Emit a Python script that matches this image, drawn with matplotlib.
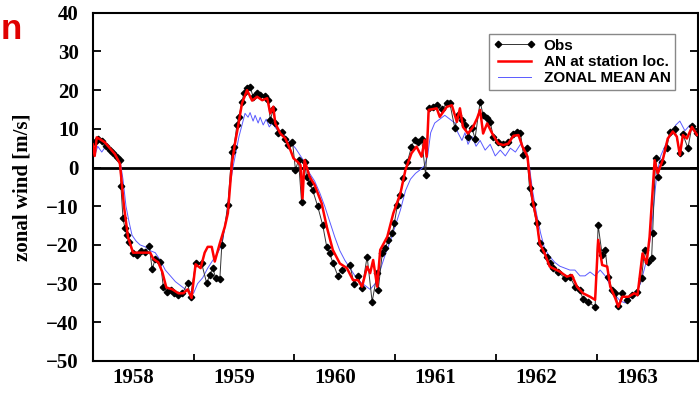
import matplotlib
matplotlib.use("Agg")
import matplotlib.pyplot as plt
import numpy as np

# ---------------- data (decimal year, zonal wind m/s) ----------------
obs_t = [1958.02, 1958.05, 1958.09, 1958.13, 1958.17, 1958.20, 1958.24, 1958.27, 1958.28, 1958.30,
         1958.32, 1958.34, 1958.36, 1958.40, 1958.44, 1958.48, 1958.52, 1958.56, 1958.59, 1958.62,
         1958.67, 1958.70, 1958.74, 1958.78, 1958.81, 1958.85, 1958.89, 1958.94, 1958.97,
         1959.02, 1959.08, 1959.13, 1959.16, 1959.19, 1959.22, 1959.26, 1959.28, 1959.34, 1959.38,
         1959.40, 1959.43, 1959.45, 1959.48, 1959.50, 1959.53, 1959.56, 1959.59, 1959.63, 1959.66,
         1959.71, 1959.74, 1959.76, 1959.79, 1959.81, 1959.84, 1959.88, 1959.91, 1959.94, 1959.98,
         1960.01, 1960.04, 1960.07, 1960.10, 1960.12, 1960.15, 1960.18, 1960.23, 1960.28, 1960.32,
         1960.35, 1960.38, 1960.43, 1960.47, 1960.55, 1960.59, 1960.63, 1960.67, 1960.72, 1960.77,
         1960.82, 1960.83, 1960.87, 1960.90, 1960.93, 1960.97, 1960.99,
         1961.02, 1961.05, 1961.08, 1961.12, 1961.16, 1961.19, 1961.22, 1961.26, 1961.30, 1961.33,
         1961.37, 1961.41, 1961.46, 1961.51, 1961.54, 1961.59, 1961.62, 1961.66, 1961.69, 1961.72,
         1961.76, 1961.79, 1961.84, 1961.87, 1961.91, 1961.94, 1961.97,
         1962.02, 1962.07, 1962.12, 1962.17, 1962.21, 1962.24, 1962.27, 1962.30, 1962.33, 1962.36,
         1962.40, 1962.43, 1962.46, 1962.50, 1962.53, 1962.56, 1962.61, 1962.68, 1962.73, 1962.78,
         1962.83, 1962.86, 1962.91, 1962.98,
         1963.01, 1963.05, 1963.08, 1963.11, 1963.15, 1963.18, 1963.21, 1963.25, 1963.30, 1963.35,
         1963.40, 1963.44, 1963.47, 1963.50, 1963.54, 1963.55, 1963.58, 1963.60, 1963.64, 1963.69,
         1963.72, 1963.77, 1963.82, 1963.85, 1963.90, 1963.94, 1963.99]
obs_v = [6.5, 7.4, 6.8, 5.6, 4.5, 3.7, 2.6, 1.9, -4.8, -13.1,
         -15.7, -17.4, -19.2, -22.2, -22.6, -21.7, -21.8, -20.3, -26.3, -23.6,
         -24.3, -30.8, -32.1, -31.6, -32.5, -33.0, -32.5, -29.9, -33.4,
         -24.8, -24.8, -29.9, -27.8, -26.0, -28.6, -28.9, -20.0, -9.7, 4.1,
         5.4, 11.0, 13.1, 17.0, 19.3, 20.5, 20.9, 18.3, 19.2, 18.7,
         18.5, 17.4, 12.3, 15.0, 11.4, 8.8, 9.3, 7.5, 5.8, 6.7,
         -0.6, 1.9, -8.8, 1.5, -2.4, -4.1, -5.8, -10.0, -14.9, -20.5,
         -22.2, -24.6, -28.0, -26.5, -25.2, -30.0, -28.0, -31.2, -23.0, -34.7,
         -27.3, -31.7, -22.2, -20.9, -18.7, -17.0, -14.4,
         -9.7, -7.1, -2.8, 1.5, 5.4, 7.1, 6.7, 7.5, -1.9, 15.3,
         15.7, 16.1, 15.0, 16.6, 16.6, 10.1, 13.6, 12.3, 11.0, 8.0,
         10.1, 7.5, 17.0, 13.6, 12.7, 11.8, 8.0,
         6.7, 6.2, 6.7, 8.6, 9.3, 9.0, 3.2, 5.0, -5.4, -9.3,
         -14.4, -19.6, -21.3, -23.0, -24.8, -26.0, -26.9, -28.6, -28.2, -30.8,
         -31.7, -34.0, -34.7, -36.0,
         -14.9, -22.6, -21.3, -28.2, -31.7, -32.5, -35.8, -32.5, -34.2, -33.0,
         -32.1, -28.6, -21.3, -24.3, -23.5, -17.0, 2.5, -2.4, 1.5, 5.0,
         9.3, 10.0, 3.7, 8.6, 5.0, 10.8, 9.0]

an_t = [1958.00, 1958.02, 1958.04, 1958.08, 1958.12, 1958.17, 1958.22, 1958.27, 1958.31, 1958.35,
        1958.40, 1958.47, 1958.53, 1958.57, 1958.60, 1958.65, 1958.69, 1958.73, 1958.79, 1958.85,
        1958.90, 1958.94, 1958.98,
        1959.02, 1959.07, 1959.11, 1959.14, 1959.18, 1959.21, 1959.26, 1959.31, 1959.34, 1959.38,
        1959.41, 1959.44, 1959.48, 1959.53, 1959.58, 1959.63, 1959.68, 1959.73, 1959.76, 1959.79,
        1959.81, 1959.86, 1959.91, 1959.96, 1959.99,
        1960.03, 1960.06, 1960.08, 1960.10, 1960.12, 1960.15, 1960.20, 1960.27, 1960.32, 1960.38,
        1960.45, 1960.52, 1960.58, 1960.63, 1960.67, 1960.72, 1960.75, 1960.78, 1960.82, 1960.85,
        1960.92, 1960.98,
        1961.05, 1961.10, 1961.16, 1961.21, 1961.26, 1961.29, 1961.31, 1961.33, 1961.41, 1961.44,
        1961.51, 1961.56, 1961.61, 1961.64, 1961.67, 1961.72, 1961.77, 1961.81, 1961.84, 1961.87,
        1961.91, 1961.96,
        1962.02, 1962.07, 1962.12, 1962.17, 1962.22, 1962.26, 1962.31, 1962.33, 1962.36, 1962.40,
        1962.43, 1962.48, 1962.53, 1962.56, 1962.63, 1962.70, 1962.75, 1962.80, 1962.86, 1962.93,
        1962.98,
        1963.01, 1963.05, 1963.10, 1963.13, 1963.18, 1963.21, 1963.25, 1963.31, 1963.37, 1963.40,
        1963.45, 1963.49, 1963.52, 1963.57, 1963.60, 1963.65, 1963.70, 1963.75, 1963.79, 1963.82,
        1963.85, 1963.89, 1963.94, 1963.99]
an_v = [6.0, 3.0, 7.8, 7.2, 6.5, 5.0, 3.5, 1.0, -10.0, -18.0,
        -22.0, -22.0, -22.0, -22.0, -23.6, -24.5, -27.0, -31.0, -31.5, -32.5,
        -32.5, -31.5, -33.7,
        -25.0, -26.0, -22.0, -20.5, -20.5, -24.3, -19.6, -15.3, -11.8, 1.1,
        6.2, 10.5, 16.6, 20.0, 17.3, 18.3, 17.4, 17.9, 14.0, 15.7,
        11.4, 8.8, 7.5, 4.5, 2.4,
        1.5, 0.6, -8.0, 1.9, 0.2, -2.4, -4.5, -9.3, -15.3, -21.3,
        -24.8, -26.0, -29.1, -29.1, -30.8, -25.6, -27.3, -23.9, -30.8, -21.3,
        -17.9, -11.8,
        -6.7, -0.6, 3.7, 5.4, 2.8, 7.1, 2.8, 14.9, 15.3, 13.1,
        15.7, 16.1, 11.8, 15.3, 10.5, 8.8, 10.5, 12.7, 14.9, 8.8,
        11.4, 8.8,
        6.2, 5.8, 6.2, 8.2, 8.4, 5.4, 2.8, -2.4, -8.4, -13.6,
        -19.6, -22.2, -25.6, -26.0, -26.9, -28.2, -27.8, -30.8, -32.5, -33.4,
        -34.2,
        -18.7, -25.2, -25.6, -30.8, -33.8, -36.0, -33.4, -33.4, -32.5, -33.0,
        -22.2, -24.8, -17.9, 1.9, -1.5, 1.9, 7.5, 9.3, 8.0, 3.2,
        8.4, 7.5, 10.5, 8.4]

zm_t = [1958.00, 1958.02, 1958.05, 1958.09, 1958.13, 1958.17, 1958.22, 1958.27, 1958.30, 1958.33,
        1958.36, 1958.39, 1958.43, 1958.47, 1958.52, 1958.57, 1958.62, 1958.67, 1958.72, 1958.77,
        1958.82, 1958.87, 1958.92, 1958.96,
        1959.00, 1959.04, 1959.09, 1959.14, 1959.19, 1959.24, 1959.28, 1959.32, 1959.36, 1959.39,
        1959.42, 1959.45, 1959.48, 1959.51, 1959.54, 1959.56, 1959.59, 1959.61, 1959.64, 1959.66,
        1959.69, 1959.72, 1959.75, 1959.78, 1959.82, 1959.86, 1959.91, 1959.96,
        1960.01, 1960.06, 1960.11, 1960.15, 1960.20, 1960.25, 1960.30, 1960.35, 1960.40, 1960.45,
        1960.50, 1960.55, 1960.60, 1960.65, 1960.70, 1960.75, 1960.80, 1960.85, 1960.90, 1960.95,
        1961.00, 1961.05, 1961.10, 1961.15, 1961.20, 1961.25, 1961.29, 1961.32, 1961.35, 1961.39,
        1961.44, 1961.49, 1961.54, 1961.59, 1961.62, 1961.66, 1961.69, 1961.72, 1961.76, 1961.80,
        1961.84, 1961.89, 1961.94, 1961.99,
        1962.04, 1962.09, 1962.14, 1962.19, 1962.24, 1962.29, 1962.33, 1962.36, 1962.40, 1962.44,
        1962.48, 1962.53, 1962.58, 1962.63, 1962.68, 1962.73, 1962.78, 1962.83, 1962.88, 1962.93,
        1962.98,
        1963.03, 1963.08, 1963.13, 1963.18, 1963.23, 1963.28, 1963.33, 1963.38, 1963.43, 1963.48,
        1963.53, 1963.56, 1963.59, 1963.63, 1963.68, 1963.73, 1963.78, 1963.82, 1963.87, 1963.92,
        1963.97]
zm_v = [5.0, 3.0, 5.5, 4.0, 5.5, 4.5, 4.0, 2.0, -3.0, -10.0,
        -14.0, -17.5, -19.0, -20.0, -20.5, -21.5, -22.0, -24.0, -26.5, -28.0,
        -29.5, -30.5, -31.5, -32.0,
        -32.5, -30.0, -28.5, -26.0, -24.0, -22.0, -20.0, -14.0, -5.0, 0.0,
        4.0, 8.0, 11.0, 14.0, 13.0, 14.2, 12.0, 13.5, 11.5, 13.0,
        11.0, 12.5, 10.5, 11.5, 10.0, 9.5, 8.0, 6.5,
        5.0, 3.0, 1.0, -1.5, -3.5, -6.5, -10.0, -14.0, -18.0, -21.5,
        -24.0, -26.0, -28.0, -29.5, -30.5, -31.5, -30.0, -26.5, -22.5, -19.0,
        -15.0, -11.0, -6.0, -3.0, -1.5, -0.5, 0.5, 3.0, 9.0, 11.5,
        12.5, 13.5, 12.5, 11.5, 9.0, 7.0, 9.0, 6.0, 8.0, 5.5,
        7.0, 4.5, 6.0, 3.0,
        4.5, 3.0, 5.0, 4.0, 6.0, 4.5, 0.0, -6.0, -12.0, -17.0,
        -21.0, -23.0, -24.5, -25.5, -26.0, -26.5, -26.5, -28.0, -28.0, -27.0,
        -28.0,
        -26.5, -28.0, -30.5, -33.0, -34.5, -35.0, -33.5, -32.5, -30.0, -25.0,
        -18.0, -10.0, -2.0, 3.0, 6.0, 8.5, 11.0, 12.0, 9.5, 11.0,
        9.0]

year_ticks = [1959, 1960, 1961, 1962, 1963]
year_labels = ["1958", "1959", "1960", "1961", "1962", "1963"]
y_ticks = [-50, -40, -30, -20, -10, 0, 10, 20, 30, 40]

# ---------------- figure ----------------
fig = plt.figure(figsize=(6.99, 3.94), dpi=100)
ax = fig.add_axes([0.1326, 0.0838, 0.866, 0.8838])

serif = ["Liberation Serif", "DejaVu Serif"]
sans = ["Liberation Sans", "DejaVu Sans"]

ax.axhline(0, color="black", lw=2.0, zorder=1)
ax.plot(obs_t, obs_v, color="#333333", lw=0.7, marker="D", ms=3.3,
        mfc="black", mec="black", label="Obs", zorder=3)
ax.plot(an_t, an_v, color="#ff0000", lw=1.8, label="AN at station loc.", zorder=4)
ax.plot(zm_t, zm_v, color="#5a5aff", lw=0.7, label="ZONAL MEAN AN", zorder=2)

ax.set_xlim(1958.0, 1964.0)
ax.set_ylim(-50, 40)

ax.set_xticks(year_ticks)
ax.set_xticklabels([])
ax.set_xticks([y + 0.4 for y in range(1958, 1964)], minor=True)
ax.set_xticklabels(year_labels, minor=True, fontfamily=serif, fontweight="bold", fontsize=15)
ax.tick_params(axis="x", which="major", direction="in", length=5, width=1.3)
ax.tick_params(axis="x", which="minor", length=0, pad=5)

ax.set_yticks(y_ticks)
ax.set_yticklabels([str(v).replace("-", "\u2212") for v in y_ticks],
                   fontfamily=serif, fontweight="bold", fontsize=15)
ax.tick_params(axis="y", which="major", direction="in", length=6, width=1.3,
               right=True, pad=10)

for s in ax.spines.values():
    s.set_linewidth(1.5)

ax.set_ylabel("zonal wind [m/s]", fontfamily=serif, fontweight="bold", fontsize=15)
ax.yaxis.set_label_coords(-0.1, 0.5)

leg = ax.legend(loc="upper right", bbox_to_anchor=(0.962, 0.939), borderaxespad=0,
                prop={"family": sans, "weight": "bold", "size": 11},
                numpoints=2, handlelength=2.75, handletextpad=0.5,
                labelspacing=0.15, borderpad=0.3, fancybox=False,
                framealpha=1, edgecolor="#888888")
leg.get_frame().set_linewidth(1.0)

fig.text(0.001, 0.925, "n", color="#e00000", fontsize=25, fontweight="bold",
         family=sans, ha="left", va="center")

fig.savefig("out.png", dpi=100)
